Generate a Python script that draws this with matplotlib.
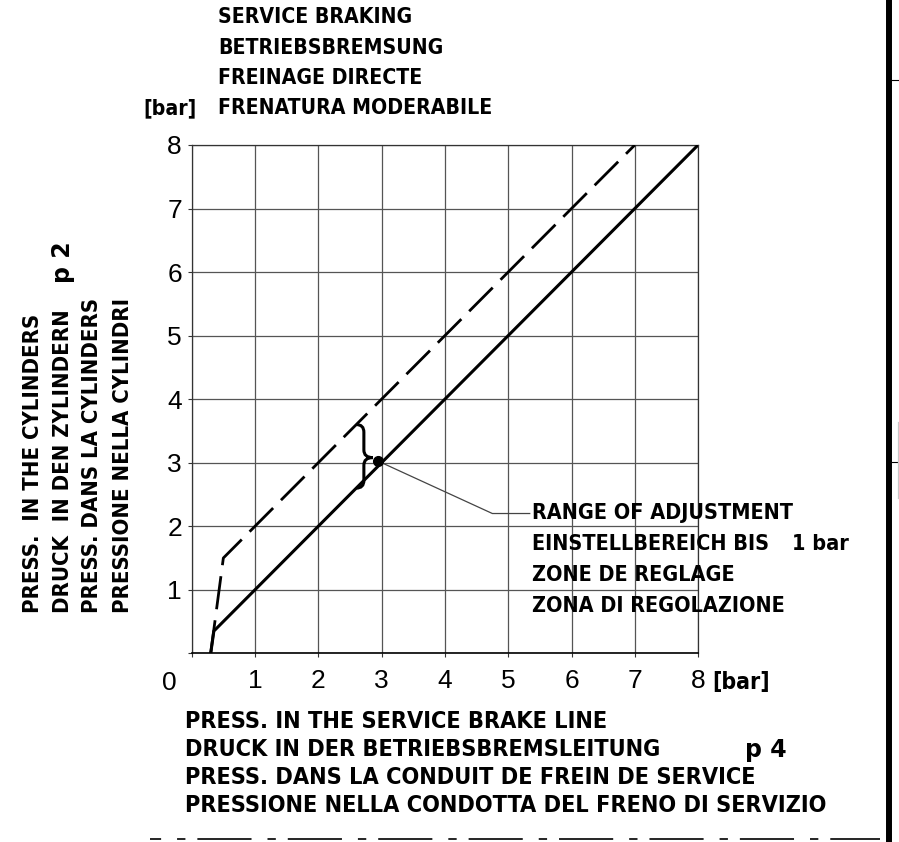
import matplotlib
matplotlib.use('Agg')
import matplotlib.pyplot as plt
from matplotlib.path import Path
from matplotlib.patches import PathPatch
from matplotlib.lines import Line2D

W, H = 899, 842
plt.rcParams['font.family'] = ['DejaVu Sans']
plt.rcParams['lines.scale_dashes'] = False

# ---- data ----
solid_x = [0.3, 0.35, 8.0]
solid_y = [0.0, 0.35, 8.0]
dashed_x = [0.3, 0.5, 7.0]
dashed_y = [0.0, 1.5, 8.0]
ticks = [0, 1, 2, 3, 4, 5, 6, 7, 8]
x_tick_labels = ['', '1', '2', '3', '4', '5', '6', '7', '8']
y_tick_labels = ['', '1', '2', '3', '4', '5', '6', '7', '8']
adjust_x = 2.72
adjust_low = 2.6
adjust_high = 3.6
adjust_point = (2.95, 3.02)
leader_pts_x = [3.0, 4.75, 5.34]
leader_pts_y = [3.0, 2.2, 2.2]

title_lines = ['SERVICE BRAKING', 'BETRIEBSBREMSUNG', 'FREINAGE DIRECTE',
               'FRENATURA MODERABILE']
ylabel_lines = ['PRESS.  IN THE CYLINDERS', 'DRUCK  IN DEN ZYLINDERN',
                'PRESS. DANS LA CYLINDERS', 'PRESSIONE NELLA CYLINDRI']
xlabel_lines = ['PRESS. IN THE SERVICE BRAKE LINE',
                'DRUCK IN DER BETRIEBSBREMSLEITUNG',
                'PRESS. DANS LA CONDUIT DE FREIN DE SERVICE',
                'PRESSIONE NELLA CONDOTTA DEL FRENO DI SERVIZIO']
note_lines = ['RANGE OF ADJUSTMENT', 'EINSTELLBEREICH BIS',
              'ZONE DE REGLAGE', 'ZONA DI REGOLAZIONE']

fig = plt.figure(figsize=(W / 100, H / 100), dpi=100)
ax = fig.add_axes([191.7 / W, 1 - 653.3 / H, 506.4 / W, 508.3 / H])
ax.set_xlim(0, 8)
ax.set_ylim(0, 8)
ax.set_xticks(ticks)
ax.set_yticks(ticks)
ax.set_xticklabels(x_tick_labels, fontsize=19, family='Liberation Sans')
ax.set_yticklabels(y_tick_labels, fontsize=19, family='Liberation Sans')
ax.tick_params(direction='out', length=3, width=0.8, color='#333333')
ax.tick_params(axis='x', pad=8)
ax.tick_params(axis='y', pad=4)
ax.grid(True, color='#555555', lw=0.9)
for s in ax.spines.values():
    s.set_color('#333333')
    s.set_linewidth(0.9)
ax.spines['bottom'].set_color('black')
ax.spines['bottom'].set_linewidth(1.2)

ax.plot(solid_x, solid_y, color='black', lw=2.2, solid_capstyle='butt', zorder=3)
ax.plot(dashed_x, dashed_y, color='black', lw=2.0, dashes=(24, 8), zorder=3)

# brace "}"
bx = adjust_x
mid = adjust_point[1] + 0.06
nose = bx + 0.14
verts = [(bx - 0.12, adjust_high), (bx, adjust_high), (bx, adjust_high - 0.12),
         (bx, mid + 0.12),
         (bx, mid), (nose, mid),
         (bx, mid), (bx, mid - 0.12),
         (bx, adjust_low + 0.12),
         (bx, adjust_low), (bx - 0.12, adjust_low)]
codes = [Path.MOVETO, Path.CURVE3, Path.CURVE3,
         Path.LINETO,
         Path.CURVE3, Path.CURVE3,
         Path.CURVE3, Path.CURVE3,
         Path.LINETO,
         Path.CURVE3, Path.CURVE3]
ax.add_patch(PathPatch(Path(verts, codes), fill=False, lw=2.2, color='black', zorder=4))
ax.plot([adjust_point[0]], [adjust_point[1]], 'o', color='black', ms=7, zorder=5)
ax.plot(leader_pts_x, leader_pts_y, color='#444444', lw=0.9, zorder=2)


def ftext(x, y, s, **kw):
    kw.setdefault('fontsize', 15.5)
    kw.setdefault('fontweight', 'bold')
    kw.setdefault('fontstretch', 'condensed')
    fig.text(x / W, 1 - y / H, s, **kw)


for i, line in enumerate(title_lines):
    ftext(218, 17 + i * 30.5, line, ha='left', va='center', fontsize=15.2)
ftext(143, 108.5, '[bar]', ha='left', va='center', fontsize=15.2)

for cx, line in zip([33, 63, 92, 123], ylabel_lines):
    ftext(cx, 613, line, rotation=90, ha='center', va='bottom', fontsize=15.8)
ftext(63, 283, 'p 2', rotation=90, ha='center', va='bottom', fontsize=17,
      fontstretch='normal')

for i, line in enumerate(xlabel_lines):
    ftext(185, 722 + i * 28, line, ha='left', va='center', fontsize=16.8)
ftext(745, 750, 'p 4', ha='left', va='center', fontsize=17, fontstretch='normal')

ftext(169, 683, '0', ha='center', va='center', fontsize=19, fontweight='normal',
      family='Liberation Sans')
ftext(712, 683, '[bar]', ha='left', va='center', fontsize=16.5)

for i, line in enumerate(note_lines):
    ftext(532, 513 + i * 31, line, ha='left', va='center')
ftext(792, 544, '1 bar', ha='left', va='center')

# drawing-sheet decorations
fig.add_artist(Line2D([150 / W, 880 / W], [1 - 839 / H] * 2, transform=fig.transFigure,
                      color='black', lw=1.2,
                      linestyle=(31, (39, 11.5, 6, 8.6))))
fig.add_artist(Line2D([889 / W] * 2, [0, 1], transform=fig.transFigure,
                      color='black', lw=4.3))
for yy in (80, 462):
    fig.add_artist(Line2D([892 / W, 1], [1 - yy / H] * 2, transform=fig.transFigure,
                          color='black', lw=0.8))
fig.add_artist(Line2D([898 / W] * 2, [1 - 498 / H, 1 - 422 / H], transform=fig.transFigure,
                      color='#c8c8c8', lw=0.9))

fig.savefig('out.png', dpi=100)
